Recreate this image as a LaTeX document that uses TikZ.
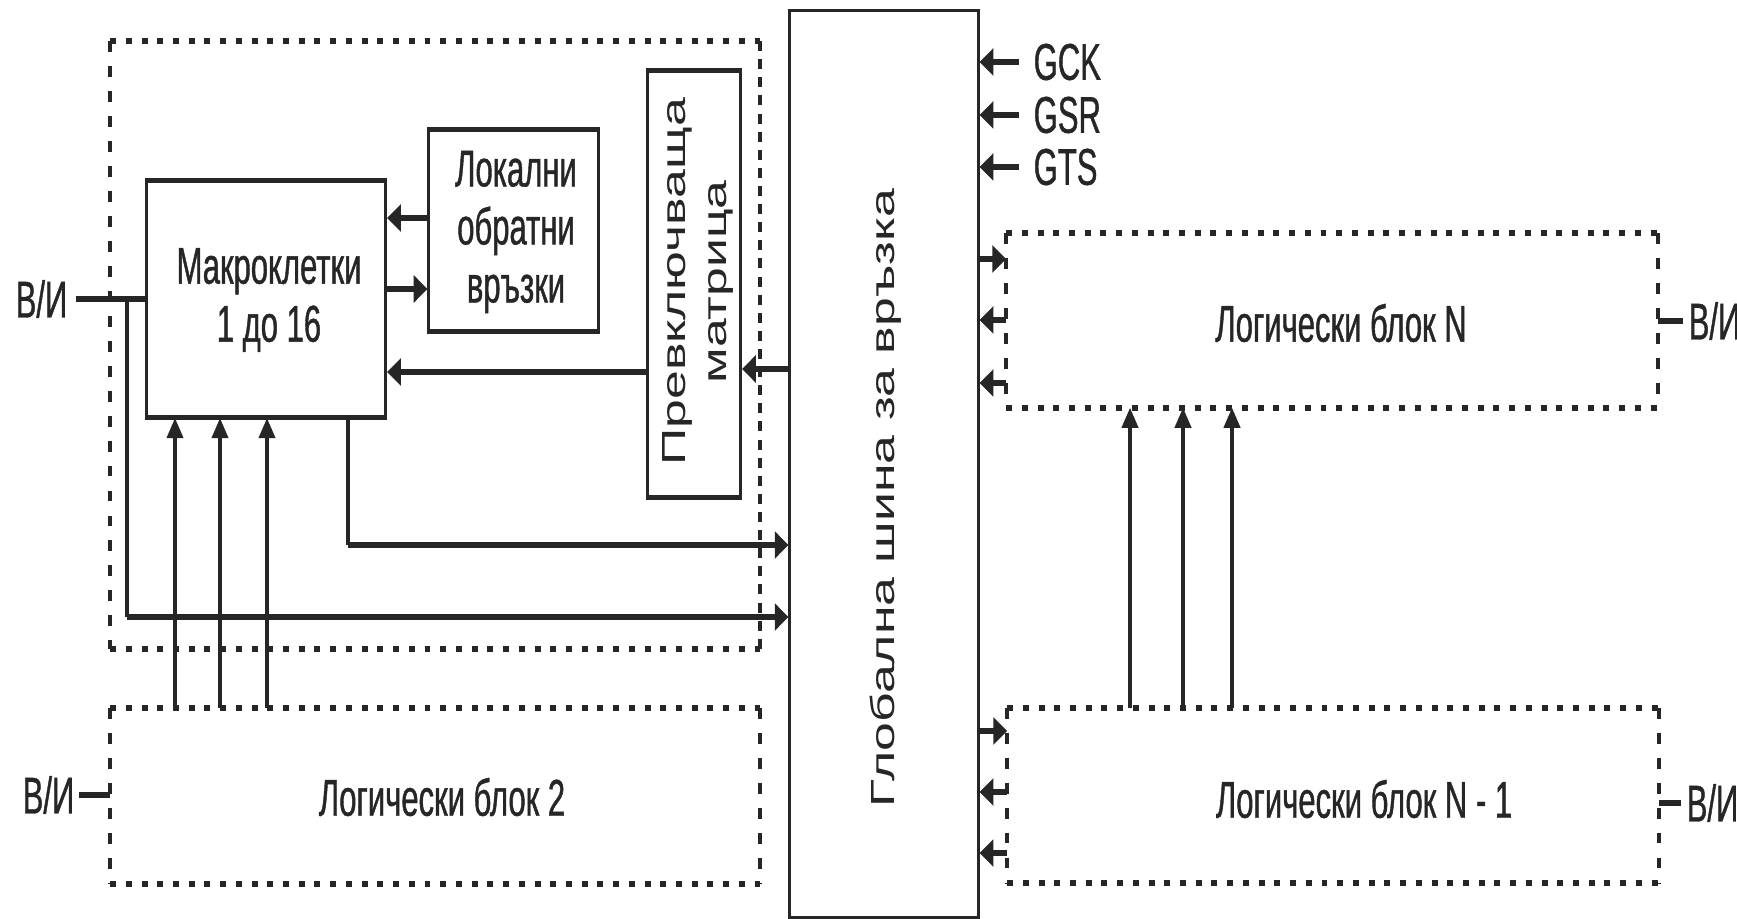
\documentclass[tikz,border=0pt]{standalone}
\usepackage{fontspec}
\newfontfamily\nf[FakeStretch=0.6,FakeBold=0.8]{Liberation Sans}
\newfontfamily\wf[FakeStretch=1.55]{Liberation Sans}
\usetikzlibrary{arrows.meta}
\definecolor{ink}{HTML}{262626}
\begin{document}
\begin{tikzpicture}[x=0.01cm,y=-0.01cm,
  solidbox/.style={draw=ink,line width=0.85pt,inner sep=0pt},
  busbox/.style={draw=ink,line width=0.85pt,inner sep=0pt},
  freebox/.style={inner sep=0pt},
  edgethick/.style={draw=ink,line width=1.35pt},
  hdot/.style={draw=ink,line width=1.7pt,dash pattern=on 1.7pt off 2.77pt},
  vdash/.style={draw=ink,line width=1.1pt,dash pattern=on 3.1pt off 4pt},
  vdashb/.style={draw=ink,line width=1.1pt,dash pattern=on 2.85pt off 2.3pt},
  lbl/.style={inner sep=0pt,text=ink,font=\nf\fontsize{14.7}{16.5}\selectfont},
  vlbl/.style={inner sep=0pt,text=ink,rotate=90,align=center,font=\wf\fontsize{9.5}{11.4}\selectfont},
  tip/.style={-{Triangle[length=3.9pt,width=7.6pt]}},
  tipup/.style={-{Triangle[length=5.7pt,width=4.6pt]}},
  thk/.style={draw=ink,line width=1.75pt},
  mid/.style={draw=ink,line width=1.5pt},
  thn/.style={draw=ink,line width=1.0pt}
]
\useasboundingbox (0,0) rectangle (1737,919);

% boxes
\node[freebox,minimum width=6.48cm,minimum height=6.06cm] (blk1) at (435,345) {};
\node[freebox,minimum width=6.48cm,minimum height=1.74cm] (blk2) at (435,796) {};
\node[freebox,minimum width=6.50cm,minimum height=1.73cm] (blkN) at (1332,320.5) {};
\node[freebox,minimum width=6.50cm,minimum height=1.74cm] (blkNa) at (1333,795.5) {};

\node[solidbox,minimum width=2.39cm,minimum height=2.35cm] (macro) at (266,299) {};
\node[lbl,align=center] (macrot) at (269,300) {Макроклетки\\1 до 16};
\node[solidbox,minimum width=1.69cm,minimum height=1.99cm] (local) at (513.5,230.5) {};
\node[lbl,align=center] (localt) at (516,232) {Локални\\обратни\\връзки};
\node[solidbox,minimum width=0.93cm,minimum height=4.24cm] (switch) at (694,284) {};
\node[vlbl] (switcht) at (698,282) {Превключваща\\матрица};
\node[busbox,minimum width=1.88cm,minimum height=9.06cm] (bus) at (884,464) {};
\node[vlbl] (bust) at (886,498) {Глобална шина за връзка};

\foreach \b in {macro,local,switch}{
  \draw[edgethick] (\b.north west) -- (\b.north east);
  \draw[edgethick] (\b.south west) -- (\b.south east);
}

% dotted blocks
\foreach \b in {blk1,blk2,blkN,blkNa}{
  \draw[hdot] (\b.north west) -- (\b.north east);
  \draw[hdot] (\b.south west) -- (\b.south east);
  \draw[vdash] (\b.north west) -- (\b.south west);
}
\draw[vdashb] (blk1.north east) -- (blk1.south east);
\foreach \b in {blk2,blkN,blkNa}{
  \draw[vdash] (\b.north east) -- (\b.south east);
}

\node[lbl] (blk2t) at (442,797) {Логически блок 2};
\node[lbl] (blkNt) at (1341,323) {Логически блок N};
\node[lbl] (blkNat) at (1364,799) {Логически блок N - 1};

% inner arrows
\draw[thk,tip] (local.west |- 0,218) -- (macro.east |- 0,218);
\draw[thk,tip] (macro.east |- 0,289) -- (local.west |- 0,289);
\draw[thk,tip] (switch.west |- 0,372) -- (macro.east |- 0,372);
\draw[thk,tip] (bus.west |- 0,369) -- (switch.east |- 0,369);

% I/O left top
\node[lbl,anchor=west] (vi1) at (15,299) {В/И};
\coordinate (j1) at (127,299);
\draw[thk] ([xshift=0.08cm]vi1.east) -- (macro.west |- vi1.east);
\draw[thn] (j1) -- (127,617);
\draw[mid,tip] (127,617) -- (bus.west |- 0,617);
\draw[thn] (macro.south -| 348,0) -- (348,545);
\draw[mid,tip] (348,545) -- (bus.west |- 0,545);

% up arrows block 2 -> macro
\foreach \x in {175,220,267}{
  \draw[thn,tipup] (blk2.north -| \x,0) -- (macro.south -| \x,0);
}

% I/O block 2
\node[lbl,anchor=west] (vi2) at (22,795) {В/И};
\draw[thk] ([xshift=0.04cm]vi2.east) -- (blk2.west |- vi2.east);

% global signals
\node[lbl,anchor=west] (gck) at (1033,62) {GCK};
\node[lbl,anchor=west] (gsr) at (1033,115) {GSR};
\node[lbl,anchor=west] (gts) at (1033,167) {GTS};
\foreach \g in {gck,gsr,gts}{
  \draw[mid,tip] ([xshift=-0.14cm]\g.west) -- (bus.east |- \g.west);
}

% bus <-> block N
\draw[mid,tip] (bus.east |- 0,259) -- (blkN.west |- 0,259);
\draw[mid,tip] (blkN.west |- 0,320) -- (bus.east |- 0,320);
\draw[mid,tip] (blkN.west |- 0,383) -- (bus.east |- 0,383);
% bus <-> block N-1
\draw[mid,tip] (bus.east |- 0,731) -- (blkNa.west |- 0,731);
\draw[mid,tip] (blkNa.west |- 0,792) -- (bus.east |- 0,792);
\draw[mid,tip] (blkNa.west |- 0,853) -- (bus.east |- 0,853);

% up arrows N-1 -> N
\foreach \x in {1130,1183,1232}{
  \draw[thn,tipup] (blkNa.north -| \x,0) -- (blkN.south -| \x,0);
}

% I/O right
\node[lbl,anchor=west] (vi3) at (1688,321) {В/И};
\draw[thk] (blkN.east |- vi3.west) -- ([xshift=-0.05cm]vi3.west);
\node[lbl,anchor=west] (vi4) at (1686,803) {В/И};
\draw[thk] (blkNa.east |- vi4.west) -- ([xshift=-0.05cm]vi4.west);
\end{tikzpicture}
\end{document}
